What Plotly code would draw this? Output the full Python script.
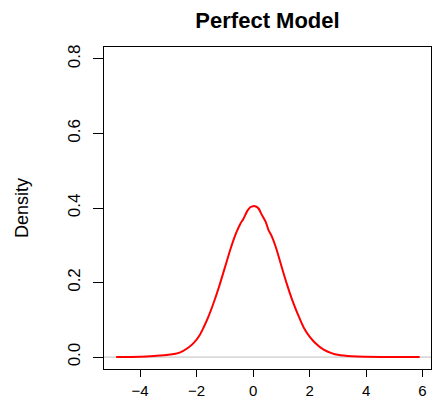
import plotly.graph_objects as go

# Kernel density estimate of the model residuals
x_vals = [-4.85, -4.0, -3.5, -3.0, -2.6, -2.3, -2.1, -1.9, -1.75, -1.6, -1.4, -1.2,
          -1.0, -0.8, -0.6, -0.45, -0.35, -0.2, -0.1, 0.0, 0.1, 0.2, 0.3, 0.45,
          0.55, 0.65, 0.8, 1.0, 1.2, 1.4, 1.6, 1.8, 2.0, 2.2, 2.5, 2.8, 3.0,
          3.5, 4.0, 5.0, 5.9]
density = [0.0003, 0.001, 0.003, 0.006, 0.012, 0.025, 0.038, 0.058, 0.080, 0.105,
           0.145, 0.190, 0.240, 0.290, 0.333, 0.358, 0.370, 0.393, 0.402, 0.405,
           0.404, 0.398, 0.383, 0.362, 0.340, 0.326, 0.296, 0.245, 0.195, 0.150,
           0.112, 0.078, 0.055, 0.038, 0.020, 0.010, 0.006, 0.002, 0.0008,
           0.0002, 0.0001]

x_ticks = [-4, -2, 0, 2, 4, 6]
y_ticks = [0.0, 0.2, 0.4, 0.6, 0.8]
y_ticktext = ["0.0", "0.2", "0.4", "0.6", "0.8"]

FONT = "Liberation Sans, Arial, Helvetica, sans-serif"

fig = go.Figure()

# reference line at zero density
fig.add_trace(go.Scatter(
    x=[-5.28, 6.30], y=[0, 0], mode="lines",
    line=dict(color="#BEBEBE", width=1), hoverinfo="skip", showlegend=False,
))

fig.add_trace(go.Scatter(
    x=x_vals, y=density, mode="lines",
    line=dict(color="#FF0000", width=2, shape="spline", smoothing=0.8),
    showlegend=False,
))

fig.update_layout(
    width=434, height=399,
    margin=dict(l=104, r=3, t=47, b=30),
    plot_bgcolor="white", paper_bgcolor="white",
    font=dict(family=FONT, color="black"),
    title=dict(
        text="<b>Perfect Model</b>",
        font=dict(family=FONT, size=22, color="black"),
        x=0.5, xref="paper", xanchor="center",
        y=1 - 20 / 399, yref="container", yanchor="middle",
    ),
    xaxis=dict(
        range=[-5.28, 6.30], tickvals=x_ticks,
        ticks="outside", ticklen=7, tickwidth=1, tickcolor="black",
        showline=True, linecolor="black", linewidth=1, mirror=True,
        showgrid=False, zeroline=False, automargin=False,
        tickfont=dict(size=15), ticklabelstandoff=1,
    ),
    yaxis=dict(
        range=[-0.032, 0.832], tickvals=y_ticks, ticktext=y_ticktext,
        ticks="outside", ticklen=10, tickwidth=1, tickcolor="black",
        showline=True, linecolor="black", linewidth=1, mirror=True,
        showgrid=False, zeroline=False, automargin=False,
        tickangle=-90, tickfont=dict(size=17), ticklabelstandoff=6,
        title=dict(text="Density", font=dict(size=18), standoff=31),
    ),
)

fig.write_html("out.html")
